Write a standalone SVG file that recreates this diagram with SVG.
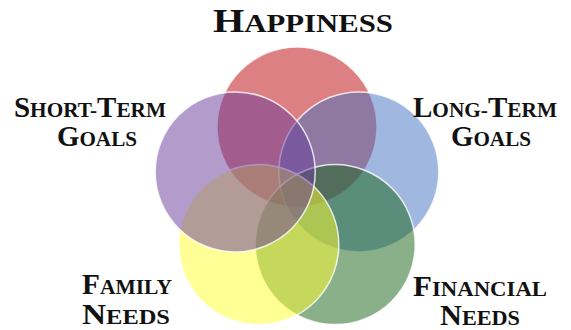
<svg xmlns="http://www.w3.org/2000/svg" width="571" height="330" viewBox="0 0 571 330">
<style>
.c{stroke:#ffffff;stroke-width:1.5;stroke-opacity:0.8}
.l{font-family:"Liberation Serif","Times New Roman",serif;font-weight:bold;fill:#111111;text-anchor:middle}
.b{font-size:30px}
.s{font-size:22px}
.hb{font-size:34px}
.hs{font-size:26px}
</style>
<rect width="571" height="330" fill="#ffffff"/>
<g id="happiness">
<circle class="c" cx="297" cy="127" r="80" fill="rgb(187,1,7)" fill-opacity="0.5"/>
<text class="l" x="303" y="32" textLength="180" lengthAdjust="spacingAndGlyphs"><tspan class="hb">H</tspan><tspan class="hs">APPINESS</tspan></text>
</g>
<g id="long-term-goals">
<circle class="c" cx="358.8" cy="171.9" r="80" fill="rgb(65,113,193)" fill-opacity="0.5"/>
<text class="l" x="485" y="117" textLength="144" lengthAdjust="spacingAndGlyphs"><tspan class="b">L</tspan><tspan class="s">ONG-</tspan><tspan class="b">T</tspan><tspan class="s">ERM</tspan></text>
<text class="l" x="491" y="146" textLength="80" lengthAdjust="spacingAndGlyphs"><tspan class="b">G</tspan><tspan class="s">OALS</tspan></text>
</g>
<g id="financial-needs">
<circle class="c" cx="335.2" cy="244.6" r="80" fill="rgb(21,97,21)" fill-opacity="0.5"/>
<text class="l" x="480" y="296" textLength="134" lengthAdjust="spacingAndGlyphs"><tspan class="b">F</tspan><tspan class="s">INANCIAL</tspan></text>
<text class="l" x="480" y="325" textLength="80" lengthAdjust="spacingAndGlyphs"><tspan class="b">N</tspan><tspan class="s">EEDS</tspan></text>
</g>
<g id="family-needs">
<circle class="c" cx="258.8" cy="244.6" r="80" fill="rgb(255,255,43)" fill-opacity="0.5"/>
<text class="l" x="127" y="294" textLength="90" lengthAdjust="spacingAndGlyphs"><tspan class="b">F</tspan><tspan class="s">AMILY</tspan></text>
<text class="l" x="126" y="324" textLength="88" lengthAdjust="spacingAndGlyphs"><tspan class="b">N</tspan><tspan class="s">EEDS</tspan></text>
</g>
<g id="short-term-goals">
<circle class="c" cx="235.2" cy="171.9" r="80" fill="rgb(103,57,153)" fill-opacity="0.5"/>
<text class="l" x="90" y="117" textLength="152" lengthAdjust="spacingAndGlyphs"><tspan class="b">S</tspan><tspan class="s">HORT-</tspan><tspan class="b">T</tspan><tspan class="s">ERM</tspan></text>
<text class="l" x="97" y="146" textLength="80" lengthAdjust="spacingAndGlyphs"><tspan class="b">G</tspan><tspan class="s">OALS</tspan></text>
</g>
<g id="connectors"></g>
</svg>
